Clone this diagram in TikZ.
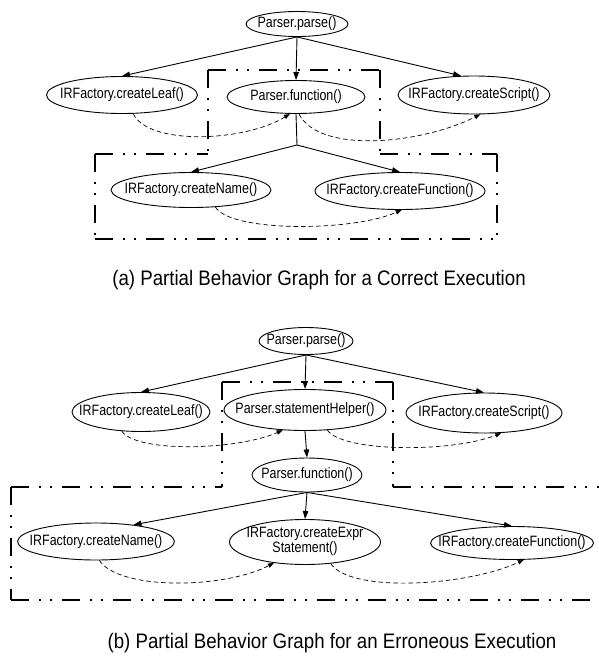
\documentclass[tikz,border=0pt]{standalone}
\usepackage{fontspec}
\usepackage{graphicx}
\setmainfont{Liberation Sans}
\usetikzlibrary{arrows.meta,calc,shapes.geometric}
\newcommand\zt[1]{\makebox[0pt]{\scalebox{0.83}[1]{#1}}}
\newcommand\zcap[1]{\scalebox{0.89}[1]{#1}}
\begin{document}
\begin{tikzpicture}[x=1pt,y=-1pt,
  ell/.style={draw, ellipse, line width=0.9pt, inner sep=0pt, font=\fontsize{15}{16}\selectfont},
  arr/.style={line width=0.9pt, -{Triangle[length=8pt,width=5.5pt]}},
  dsh/.style={line width=0.7pt, dash pattern=on 4.5pt off 3pt, -{Triangle[length=6pt,width=4.5pt]}},
  grp/.style={line width=2.2pt, dash pattern=on 18pt off 10pt on 2pt off 9pt on 2pt off 10pt},
  captext/.style={font=\fontsize{21}{24}\selectfont, inner sep=0pt}]
\useasboundingbox (0,0) rectangle (599,656);
% ---------- (a) ----------
\coordinate (a1) at (95,154);  \coordinate (a2) at (208,154);
\coordinate (a3) at (208,70);  \coordinate (a4) at (380,70);
\coordinate (a5) at (380,154); \coordinate (a6) at (497,154);
\coordinate (a7) at (497,239); \coordinate (a8) at (95,239);
\draw[grp] (a3) -- (a2); \draw[grp] (a3) -- (a4); \draw[grp] (a4) -- (a5);
\draw[grp] (a5) -- (a6); \draw[grp] (a6) -- (a7); \draw[grp] (a8) -- (a7);
\draw[grp] (a1) -- (a8); \draw[grp] (a1) -- (a2);
\node[ell, minimum width=102, minimum height=25] (parseA) at (297,24) {\zt{Parser.parse()}};
\node[ell, minimum width=151, minimum height=37] (leafA) at (122,95) {\zt{IRFactory.createLeaf()}};
\node[ell, minimum width=138, minimum height=33] (funcA) at (296,97) {\zt{Parser.function()}};
\node[ell, minimum width=152, minimum height=38] (scriptA) at (474,95) {\zt{IRFactory.createScript()}};
\node[ell, minimum width=160, minimum height=35] (nameA) at (191,190) {\zt{IRFactory.createName()}};
\node[ell, minimum width=170, minimum height=37] (fnA) at (400,191) {\zt{IRFactory.createFunction()}};
\coordinate (brA) at (297,145);
\draw[arr] (parseA.south) -- (leafA.north);
\draw[arr] (parseA.south) -- (funcA.north);
\draw[arr] (parseA.south) -- (scriptA.124);
\draw[line width=0.9pt] (funcA.south) -- (brA);
\draw[arr] (brA) -- (nameA.north);
\draw[arr] (brA) -- (fnA.north);
\draw[dsh] (leafA.-59) .. controls +(15,32) and +(-45,28) .. (funcA.-110);
\draw[dsh] (funcA.-80) .. controls +(20,40) and +(-60,30) .. (scriptA.-72);
\draw[dsh] (nameA.-35) .. controls +(15,25) and +(-50,22) .. (fnA.-85);
\node[captext] (capA) at (319,280) {\zcap{(a) Partial Behavior Graph for a Correct Execution}};
% ---------- (b) ----------
\coordinate (b1) at (600,487); \coordinate (b2) at (393,487);
\coordinate (b3) at (393,382); \coordinate (b4) at (222,382);
\coordinate (b5) at (222,487); \coordinate (b6) at (11,487);
\coordinate (b7) at (11,600);  \coordinate (b8) at (600,600);
\draw[grp] (b4) -- (b3); \draw[grp] (b4) -- (b5); \draw[grp] (b3) -- (b2);
\draw[grp] (b2) -- (b1); \draw[grp] (b6) -- (b5); \draw[grp] (b6) -- (b7);
\draw[grp] (b7) -- (b8);
\node[ell, minimum width=94, minimum height=27] (parseB) at (306,341) {\zt{Parser.parse()}};
\node[ell, minimum width=138, minimum height=39] (leafB) at (141,412) {\zt{IRFactory.createLeaf()}};
\node[ell, minimum width=162, minimum height=41] (helperB) at (305,410) {\zt{Parser.statementHelper()}};
\node[ell, minimum width=156, minimum height=40] (scriptB) at (484,413) {\zt{IRFactory.createScript()}};
\node[ell, minimum width=110, minimum height=34] (funcB) at (307,475) {\zt{Parser.function()}};
\node[ell, minimum width=157, minimum height=37] (nameB) at (96,541.5) {\zt{IRFactory.createName()}};
\node[ell, minimum width=151, minimum height=45] (exprB) at (305,542) {\zt{\begin{tabular}{@{}c@{}}IRFactory.createExpr\\[-1pt] Statement()\end{tabular}}};
\node[ell, minimum width=163, minimum height=33] (fnB) at (512,543) {\zt{IRFactory.createFunction()}};
\draw[arr] (parseB.south) -- (leafB.north);
\draw[arr] (parseB.south) -- (helperB.north);
\draw[arr] (parseB.south) -- (scriptB.north);
\draw[arr] (helperB.south) -- (funcB.north);
\draw[arr] (funcB.south) -- (nameB.24);
\draw[arr] (funcB.south) -- (exprB.north);
\draw[arr] (funcB.south) -- (fnB.north);
\draw[dsh] (leafB.-135) .. controls +(15,22) and +(-45,20) .. (helperB.-138);
\draw[dsh] (helperB.-42) .. controls +(15,22) and +(-50,20) .. (scriptB.-49);
\draw[dsh] (nameB.-80) .. controls +(20,30) and +(-50,26) .. (exprB.-146);
\draw[dsh] (exprB.-40) .. controls +(20,30) and +(-55,26) .. (fnB.-55);
\node[captext] (capB) at (332,643) {\zcap{(b) Partial Behavior Graph for an Erroneous Execution}};
\end{tikzpicture}
\end{document}
